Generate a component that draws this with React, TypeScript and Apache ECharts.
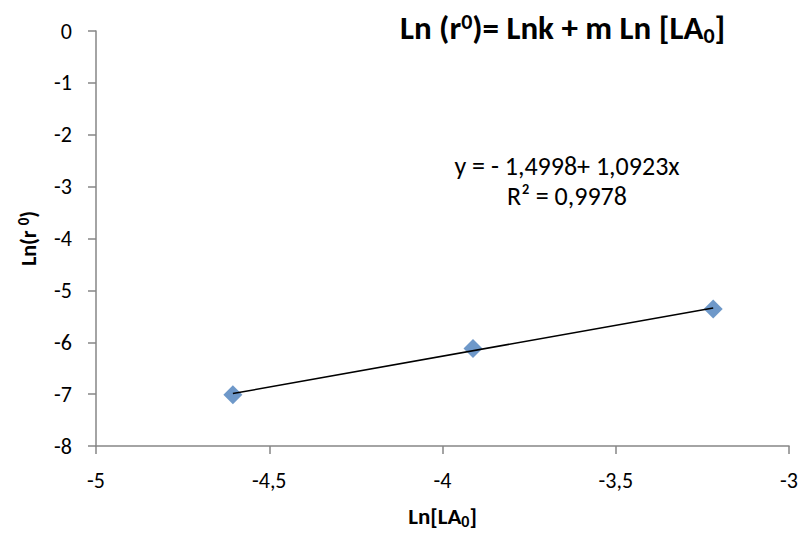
import React, { useEffect, useRef } from "react";
import * as echarts from "echarts";

const lnLA0: number[] = [-4.605, -3.912, -3.219];
const lnR0: number[] = [-7.01, -6.12, -5.36];
const equationText = "y = - 1,4998+ 1,0923x";
const r2Text = "R² = 0,9978";

const FONT = "Carlito, Lato, 'Open Sans', sans-serif";

function fitLine(xs: number[], ys: number[]) {
  const n = xs.length;
  const mx = xs.reduce((a, b) => a + b, 0) / n;
  const my = ys.reduce((a, b) => a + b, 0) / n;
  let sxy = 0, sxx = 0;
  for (let i = 0; i < n; i++) {
    sxy += (xs[i] - mx) * (ys[i] - my);
    sxx += (xs[i] - mx) * (xs[i] - mx);
  }
  const m = sxy / sxx;
  const b = my - m * mx;
  const x0 = Math.min(...xs), x1 = Math.max(...xs);
  return [[x0, b + m * x0], [x1, b + m * x1]];
}

export default function App() {
  const ref = useRef<HTMLDivElement>(null);
  useEffect(() => {
    if (!ref.current) return;
    const chart = echarts.init(ref.current, null, { renderer: "svg" });
    const pts = lnLA0.map((x, i) => [x, lnR0[i]]);
    const axisColor = "#868686";
    const fmt = (v: number) => String(v).replace(".", ",");
    chart.setOption({
      animation: false,
      backgroundColor: "#ffffff",
      grid: { left: 84, right: 6, top: 23, bottom: 81 },
      xAxis: {
        type: "value",
        min: -5,
        max: -3,
        interval: 0.5,
        splitLine: { show: false },
        axisLine: { show: true, onZero: false, lineStyle: { color: axisColor, width: 1.5 } },
        axisTick: { show: true, length: 8, lineStyle: { color: axisColor, width: 1.5 } },
        axisLabel: { color: "#000", fontSize: 22, fontFamily: FONT, margin: 23, formatter: fmt },
        name: "Ln[LA{sub|0}]",
        nameLocation: "middle",
        nameGap: 57,
        nameTextStyle: {
          fontSize: 23, fontWeight: "bold", color: "#000", fontFamily: FONT,
          rich: { sub: { fontSize: 16, fontWeight: "bold", fontFamily: FONT, color: "#000", padding: [10, 0, 0, 0] } },
        },
      },
      yAxis: {
        type: "value",
        min: -8,
        max: 0,
        interval: 1,
        splitLine: { show: false },
        axisLine: { show: true, onZero: false, lineStyle: { color: axisColor, width: 1.5 } },
        axisTick: { show: true, length: 8, lineStyle: { color: axisColor, width: 1.5 } },
        axisLabel: { color: "#000", fontSize: 22, fontFamily: FONT, margin: 24, formatter: fmt },
        name: "Ln(r {sup|0})",
        nameLocation: "middle",
        nameGap: 55,
        nameTextStyle: {
          fontSize: 22, fontWeight: "bold", color: "#000", fontFamily: FONT,
          rich: { sup: { fontSize: 15, fontWeight: "bold", fontFamily: FONT, color: "#000", padding: [0, 0, 10, 0] } },
        },
      },
      graphic: [
        {
          type: "text",
          x: 392,
          y: 20,
          style: {
            text: "Ln (r{sup|0})= Lnk + m Ln [LA{sub|0}]",
            fontSize: 33,
            fontWeight: "bold",
            fontFamily: FONT,
            fill: "#000",
            verticalAlign: "middle",
            rich: {
              sup: { fontSize: 22, fontWeight: "bold", fontFamily: FONT, fill: "#000", padding: [0, 0, 14, 0] },
              sub: { fontSize: 22, fontWeight: "bold", fontFamily: FONT, fill: "#000", padding: [14, 0, 0, 0] },
            },
          },
        },
        {
          type: "text",
          x: 559,
          y: 173,
          style: {
            text: equationText + "\n" + r2Text,
            fontSize: 26,
            lineHeight: 30,
            fontFamily: FONT,
            fill: "#000",
            align: "center",
            verticalAlign: "middle",
          },
        },
      ],
      series: [
        {
          type: "line",
          data: fitLine(lnLA0, lnR0),
          symbol: "none",
          lineStyle: { color: "#000", width: 1.5 },
          z: 3,
        },
        {
          type: "scatter",
          data: pts,
          symbol: "diamond",
          symbolSize: 19,
          itemStyle: { color: "#4A7EBB" },
          z: 2,
        },
      ],
    });
    return () => chart.dispose();
  }, []);
  return <div ref={ref} style={{ width: 793, height: 526 }} />;
}
